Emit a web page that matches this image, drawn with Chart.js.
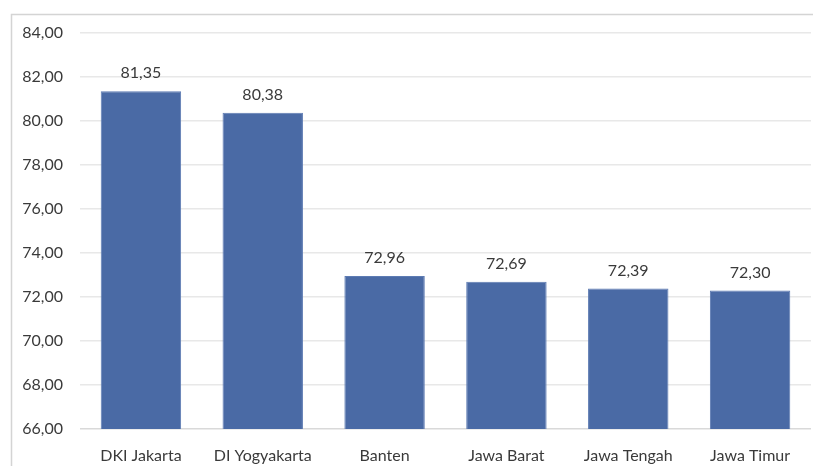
<!DOCTYPE html>
<html>
<head>
<meta charset="utf-8">
<script src="https://cdn.jsdelivr.net/npm/chart.js@4"></script>
<style>
  html, body { margin: 0; padding: 0; background: #fff; }
  #wrap { width: 813px; height: 466px; }
</style>
</head>
<body>
<div id="wrap"><canvas id="ipmChart" width="813" height="466"></canvas></div>
<script>
const provinces = ["DKI Jakarta", "DI Yogyakarta", "Banten", "Jawa Barat", "Jawa Tengah", "Jawa Timur"];
const ipmValues = [81.35, 80.38, 72.96, 72.69, 72.39, 72.30];
const yMin = 66;
const yMax = 84;
const yStep = 2;

const FONT = "Lato, 'Open Sans', sans-serif";
const TEXT = "#3a3a3a";

function fmt(v) {
    return v.toFixed(2).replace(".", ",");
}

// frame around the chart, like the pasted Excel box
const framePlugin = {
    id: "frame",
    beforeDraw(chart) {
        const c = chart.ctx;
        c.save();
        c.strokeStyle = "#d4d4d4";
        c.lineWidth = 1.5;
        c.beginPath();
        c.moveTo(11.5, 466);
        c.lineTo(11.5, 14.5);
        c.lineTo(813, 14.5);
        c.stroke();
        c.restore();
    }
};

// value labels above the bars
const valueLabels = {
    id: "valueLabels",
    afterDatasetsDraw(chart) {
        const c = chart.ctx;
        const meta = chart.getDatasetMeta(0);
        c.save();
        c.font = "16px " + FONT;
        c.fillStyle = TEXT;
        c.textAlign = "center";
        c.textBaseline = "bottom";
        meta.data.forEach(function (bar, i) {
            c.fillText(fmt(ipmValues[i]), bar.x, bar.y - 10);
        });
        c.restore();
    }
};

let ctx = document.getElementById("ipmChart").getContext("2d");

let myChart = new Chart(ctx, {
    type: "bar",
    data: {
        labels: provinces,
        datasets: [{
            data: ipmValues,
            backgroundColor: "#4a6aa5",
            borderColor: "#5d7bb3",
            borderWidth: 1,
            categoryPercentage: 0.66,
            barPercentage: 1.0
        }]
    },
    options: {
        responsive: false,
        animation: false,
        layout: {
            padding: { top: 33, right: 2, left: 0, bottom: 0 }
        },
        plugins: {
            legend: { display: false },
            tooltip: { enabled: false }
        },
        scales: {
            x: {
                grid: { display: false },
                border: { display: false },
                ticks: {
                    color: TEXT,
                    font: { family: FONT, size: 16 },
                    padding: 9,
                    maxRotation: 0
                },
                afterFit: function (scale) { scale.height = 37; }
            },
            y: {
                min: yMin,
                max: yMax,
                ticks: {
                    stepSize: yStep,
                    color: TEXT,
                    font: { family: FONT, size: 16 },
                    padding: 17,
                    callback: function (v) { return fmt(v); }
                },
                grid: {
                    color: function (c) { return c.tick.value === yMin ? "#d9d9d9" : "#e8e8e8"; },
                    lineWidth: 1.5,
                    drawTicks: false
                },
                border: { display: false },
                afterFit: function (scale) { scale.width = 80; }
            }
        }
    },
    plugins: [framePlugin, valueLabels]
});
</script>
</body>
</html>
